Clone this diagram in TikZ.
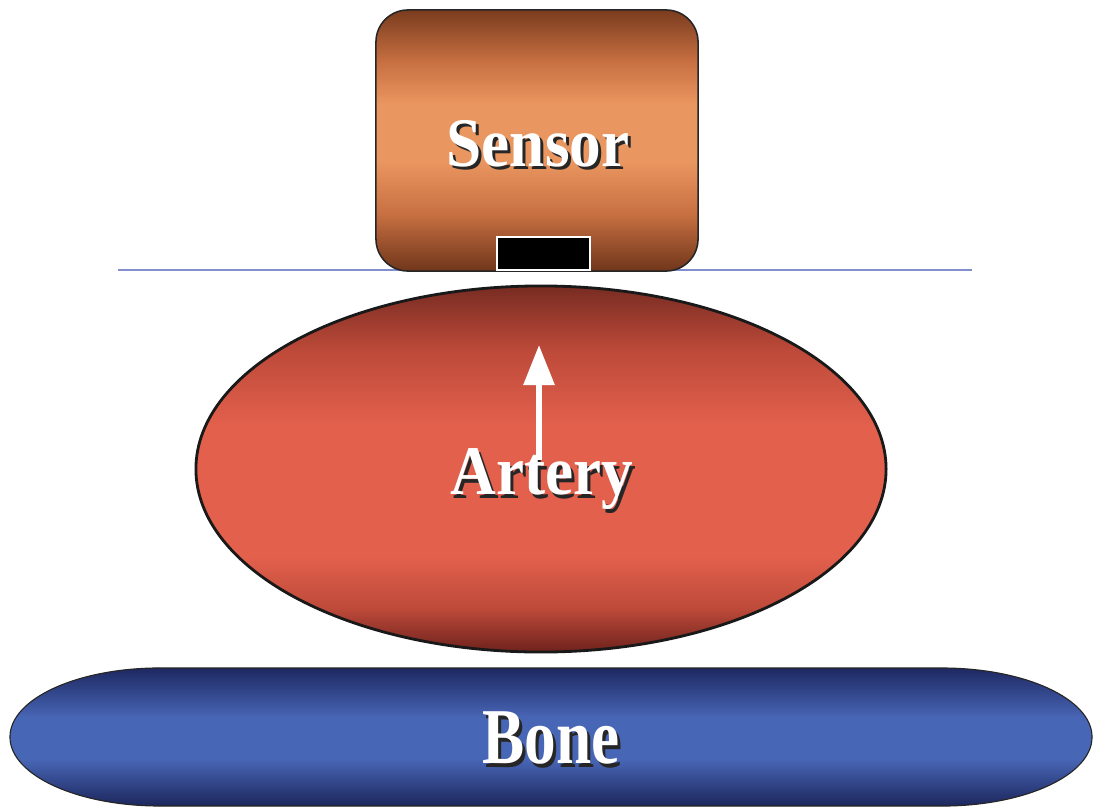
\documentclass[tikz,border=0pt]{standalone}
\usepackage{fontspec}
\setmainfont{Liberation Serif}
\usepackage{tikz}
\usetikzlibrary{arrows.meta, positioning, shapes.geometric}
\usepackage{xcolor}

\definecolor{sensorTop}{RGB}{122,60,30}
\definecolor{sensorMid}{RGB}{200,112,66}
\definecolor{sensorLight}{RGB}{234,150,96}
\definecolor{sensorDark}{RGB}{112,54,26}
\definecolor{arteryTop}{RGB}{120,44,34}
\definecolor{arteryMid}{RGB}{190,74,58}
\definecolor{arteryLight}{RGB}{226,96,76}
\definecolor{arteryDark}{RGB}{110,34,28}
\definecolor{boneTop}{RGB}{30,40,98}
\definecolor{boneLight}{RGB}{72,102,182}
\definecolor{boneDark}{RGB}{28,38,92}
\definecolor{skinBlue}{RGB}{130,142,206}

\pgfdeclareverticalshading{sensorshade}{100bp}{color(0bp)=(sensorDark); color(25bp)=(sensorDark);
    color(36bp)=(sensorMid); color(46bp)=(sensorLight); color(57bp)=(sensorLight);
    color(65bp)=(sensorMid); color(75bp)=(sensorTop); color(100bp)=(sensorTop)}
\pgfdeclareverticalshading{arteryshade}{100bp}{color(0bp)=(arteryDark); color(25bp)=(arteryDark);
    color(31bp)=(arteryMid); color(38bp)=(arteryLight); color(56bp)=(arteryLight);
    color(66bp)=(arteryMid); color(75bp)=(arteryTop); color(100bp)=(arteryTop)}
\pgfdeclareverticalshading{boneshade}{100bp}{color(0bp)=(boneDark); color(25bp)=(boneDark);
    color(42bp)=(boneLight); color(57bp)=(boneLight); color(75bp)=(boneTop); color(100bp)=(boneTop)}

\newcommand{\shadowtext}[1]{\rlap{\kern2.2pt\raisebox{-2.2pt}{\color{black!85}#1}}#1}

\begin{document}
\begin{tikzpicture}[
    x=0.025cm, y=-0.025cm,
    label text/.style={text=white, font=\bfseries\fontsize{45}{50}\selectfont, inner sep=0pt, text depth=0pt},
    sensor box/.style={draw=black!85, line width=1.1pt, rounded corners=0.8cm, shading=sensorshade,
        minimum width=8.05cm, minimum height=6.525cm},
    probe/.style={draw=white, line width=0.8pt, fill=black, inner sep=0pt,
        minimum width=2.325cm, minimum height=0.825cm},
    artery body/.style={ellipse, draw=black!90, line width=2pt, shading=arteryshade,
        minimum width=17.25cm, minimum height=9.15cm, inner sep=0pt},
    bone body/.style={draw=black!85, line width=0.8pt, shading=boneshade},
    skin line/.style={draw=skinBlue, line width=0.8pt},
    pulse arrow/.style={draw=white, line width=4.2pt, -{Triangle[length=1cm, width=0.75cm]}}
]
    \useasboundingbox[fill=white] (0,0) rectangle (1102,808);

    % skin surface
    \draw[skin line] (118,270) -- (972,270);

    % sensor with its contact element
    \node[sensor box] (sensor) at (537,140.5) {};
    \node[label text, yscale=1.1] (sensor label) at (538,143) {\shadowtext{Sensor}};
    \node[probe] (probe) at (543.5,253.5) {};

    % artery
    \node[artery body] (artery) at (541,469) {};
    \node[label text, yscale=1.1] (artery label) at (542,472) {\shadowtext{Artery}};

    % bone
    \path[bone body] (160,668) -- (942,668)
        arc[start angle=90, end angle=-90, x radius=3.75cm, y radius=1.725cm] -- (160,806)
        arc[start angle=270, end angle=90, x radius=3.75cm, y radius=1.725cm] -- cycle;
    \node[label text, yscale=1.25] (bone) at (551,738) {\shadowtext{Bone}};

    % pulse direction
    \coordinate (pulse start) at (539,460);
    \coordinate (pulse end) at (539,345);
    \draw[pulse arrow] (pulse start) -- (pulse end);
\end{tikzpicture}
\end{document}
